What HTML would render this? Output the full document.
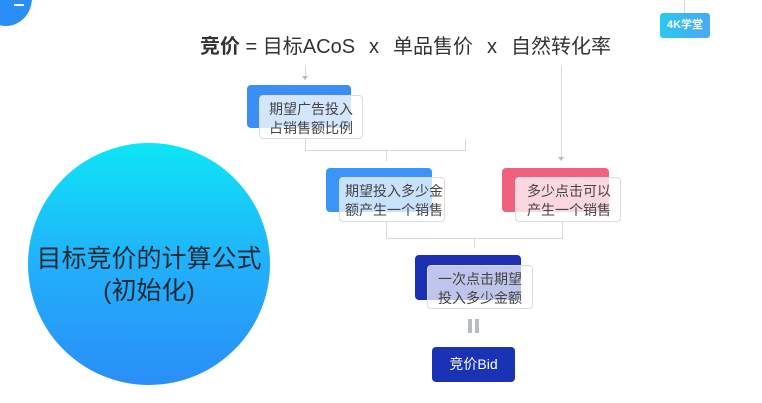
<!DOCTYPE html>
<html><head><meta charset="utf-8"><style>
body{margin:0;width:762px;height:403px;background:#fff;position:relative;overflow:hidden;font-family:"Liberation Sans","Noto Sans CJK SC",sans-serif;}
.a{position:absolute;}
.ln{position:absolute;background:#d8d8d8;}
.ov{position:absolute;border:1px solid #dcdcdc;border-radius:4px;font-size:14px;line-height:19px;color:#444;box-sizing:border-box;padding:4px 0 0 9px;white-space:nowrap;}
.g{display:inline-block;width:14px}
</style></head><body>
<div class="a" style="left:-20px;top:-30px;width:52px;height:56px;border-radius:50%;background:#2a8ef5"></div>
<div class="a" style="left:14px;top:4px;width:10px;height:2px;background:#fff"></div>
<div class="ln" style="left:684px;top:0;width:1px;height:14px"></div>
<div class="a" style="left:660px;top:13px;width:50px;height:25px;border-radius:3px;background:linear-gradient(90deg,#2bc8f0,#4aa8f5);color:#fff;font-size:11px;font-weight:bold;line-height:25px;text-align:center">4K学堂</div>
<div class="a" style="left:200px;top:33px;font-size:20px;color:#333;white-space:nowrap;line-height:28px"><b>竞价</b> = 目标ACoS<span class="g"></span>x<span class="g"></span>单品售价<span class="g"></span>x<span class="g"></span>自然转化率</div>

<div class="ln" style="left:305px;top:66px;width:1px;height:11px"></div>
<div class="a" style="left:302px;top:76px;border:3px solid transparent;border-top:4px solid #bbb"></div>
<div class="ln" style="left:561px;top:66px;width:1px;height:92px"></div>
<div class="a" style="left:558px;top:157px;border:3px solid transparent;border-top:4px solid #bbb"></div>

<div class="a" style="left:247px;top:85px;width:104px;height:43px;border-radius:4px;background:#3a8ef6"></div>
<div class="ov" style="left:259px;top:95px;width:104px;height:44px;background:rgba(255,255,255,.78)">期望广告投入<br>占销售额比例</div>

<div class="ln" style="left:305px;top:139px;width:1px;height:11px"></div>
<div class="ln" style="left:465px;top:139px;width:1px;height:11px"></div>
<div class="ln" style="left:305px;top:150px;width:161px;height:1px"></div>
<div class="ln" style="left:386px;top:150px;width:1px;height:11px"></div>

<div class="a" style="left:326px;top:168px;width:106px;height:44px;border-radius:4px;background:#3a95f8"></div>
<div class="ov" style="left:339px;top:177px;width:106px;height:45px;background:rgba(255,255,255,.72);padding-left:5px">期望投入多少金<br>额产生一个销售</div>

<div class="a" style="left:502px;top:168px;width:107px;height:44px;border-radius:4px;background:#f0617f"></div>
<div class="ov" style="left:515px;top:177px;width:106px;height:45px;background:rgba(255,255,255,.75);padding-left:11px">多少点击可以<br>产生一个销售</div>

<div class="ln" style="left:386px;top:222px;width:1px;height:16px"></div>
<div class="ln" style="left:562px;top:222px;width:1px;height:16px"></div>
<div class="ln" style="left:386px;top:238px;width:177px;height:1px"></div>
<div class="ln" style="left:474px;top:238px;width:1px;height:10px"></div>

<div class="a" style="left:415px;top:255px;width:106px;height:45px;border-radius:4px;background:#1a2fb2"></div>
<div class="ov" style="left:427px;top:265px;width:106px;height:44px;background:rgba(255,255,255,.72);padding-left:10px">一次点击期望<br>投入多少金额</div>

<div class="a" style="left:468px;top:319px;width:4px;height:14px;background:#b8bcc4"></div>
<div class="a" style="left:475px;top:319px;width:4px;height:14px;background:#b8bcc4"></div>

<div class="a" style="left:432px;top:347px;width:83px;height:35px;border-radius:4px;background:#1a33b5;color:#fff;font-size:14px;line-height:35px;text-align:center">竞价Bid</div>

<div class="a" style="left:28px;top:143px;width:242px;height:242px;border-radius:50%;background:linear-gradient(180deg,#0ee6f6,#22b0fa 50%,#2a8ef8)"></div>
<div class="a" style="left:28px;top:243px;width:242px;text-align:center;font-size:25px;line-height:32px;color:#1e2a33">目标竞价的计算公式<br>(初始化)</div>
</body></html>
